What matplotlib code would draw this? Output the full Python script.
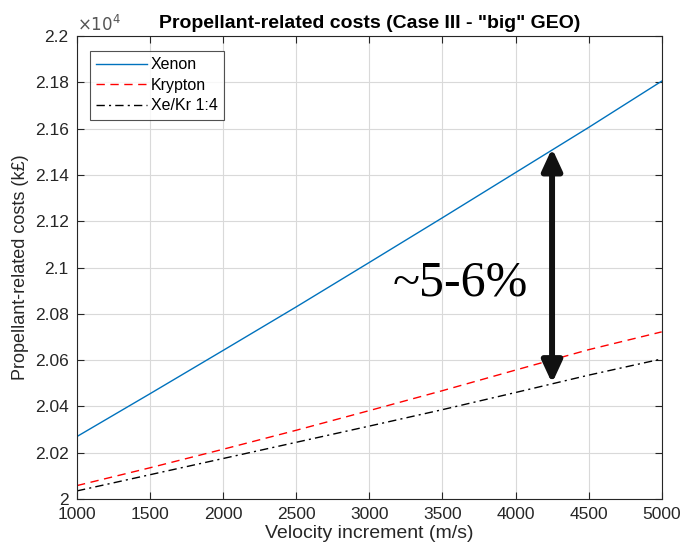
import matplotlib
matplotlib.use("Agg")
import matplotlib.pyplot as plt
import numpy as np

plt.rcParams['font.family'] = ['Liberation Sans', 'DejaVu Sans']

# velocity increment (m/s)
dv = [1000, 1500, 2000, 2500, 3000, 3500, 4000, 4500, 5000]
# propellant-related costs (x 10^4 k£)
xenon = [2.0270, 2.0455, 2.0642, 2.0830, 2.1022, 2.1215, 2.1410, 2.1605, 2.1805]
krypton = [2.0058, 2.0135, 2.0215, 2.0297, 2.0382, 2.0468, 2.0557, 2.0645, 2.0722]
xekr = [2.0035, 2.0105, 2.0175, 2.0245, 2.0315, 2.0386, 2.0460, 2.0535, 2.0605]

xticks = list(range(1000, 5001, 500))
yticks = [2.0, 2.02, 2.04, 2.06, 2.08, 2.1, 2.12, 2.14, 2.16, 2.18, 2.2]
ytick_labels = ['2', '2.02', '2.04', '2.06', '2.08', '2.1', '2.12', '2.14', '2.16', '2.18', '2.2']

axcol = '#262626'

fig = plt.figure(figsize=(6.82, 5.56), dpi=100)
ax = fig.add_axes([0.1129, 0.1025, 0.8573, 0.8327])

ax.plot(dv, xenon, color='#0072BD', lw=1.0, label='Xenon')
ax.plot(dv, krypton, color='red', lw=1.0, ls=(0, (6, 4)), label='Krypton')
ax.plot(dv, xekr, color='black', lw=1.0, ls=(0, (6, 3, 1.5, 3)), label='Xe/Kr 1:4')

ax.set_xlim(1000, 5000)
ax.set_ylim(2.0, 2.2)
ax.set_xticks(xticks)
ax.set_yticks(yticks)
ax.set_yticklabels(ytick_labels)
ax.grid(True, color='#d9d9d9', lw=0.8)
ax.set_axisbelow(True)
ax.tick_params(direction='in', top=True, right=True, colors=axcol, labelsize=12.5, length=5)
ax.tick_params(axis='x', pad=6)
ax.tick_params(axis='y', pad=6)
for s in ax.spines.values():
    s.set_color(axcol)
    s.set_linewidth(0.8)

ax.set_title('Propellant-related costs (Case III - "big" GEO)', fontsize=14, fontweight='bold', pad=6)
ax.set_xlabel('Velocity increment (m/s)', fontsize=14, color=axcol, labelpad=2)
ax.set_ylabel('Propellant-related costs (k£)', fontsize=13, color=axcol)
ax.text(0.0, 1.005, r'$\times10^4$', transform=ax.transAxes, fontsize=12, color='#555555',
        ha='left', va='bottom')

leg = ax.legend(loc='upper left', bbox_to_anchor=(0.022, 0.968), fontsize=11.5, frameon=True,
                fancybox=False, edgecolor=axcol, handlelength=3.2, handletextpad=0.2,
                borderpad=0.4, labelspacing=0.35, borderaxespad=0)
leg.get_frame().set_linewidth(0.8)

# annotation of gap between xenon and mixture
ax.annotate('', xy=(4250, 2.1515), xytext=(4250, 2.0500),
            arrowprops=dict(arrowstyle='<|-|>,head_length=0.65,head_width=0.3',
                            color='#111111', lw=4.3, mutation_scale=20,
                            shrinkA=0, shrinkB=0))
ax.text(3620, 2.093, '~5-6%', family=['Liberation Serif', 'DejaVu Serif'], fontsize=36,
        ha='center', va='center', color='black')

fig.savefig('out.png', dpi=100)
